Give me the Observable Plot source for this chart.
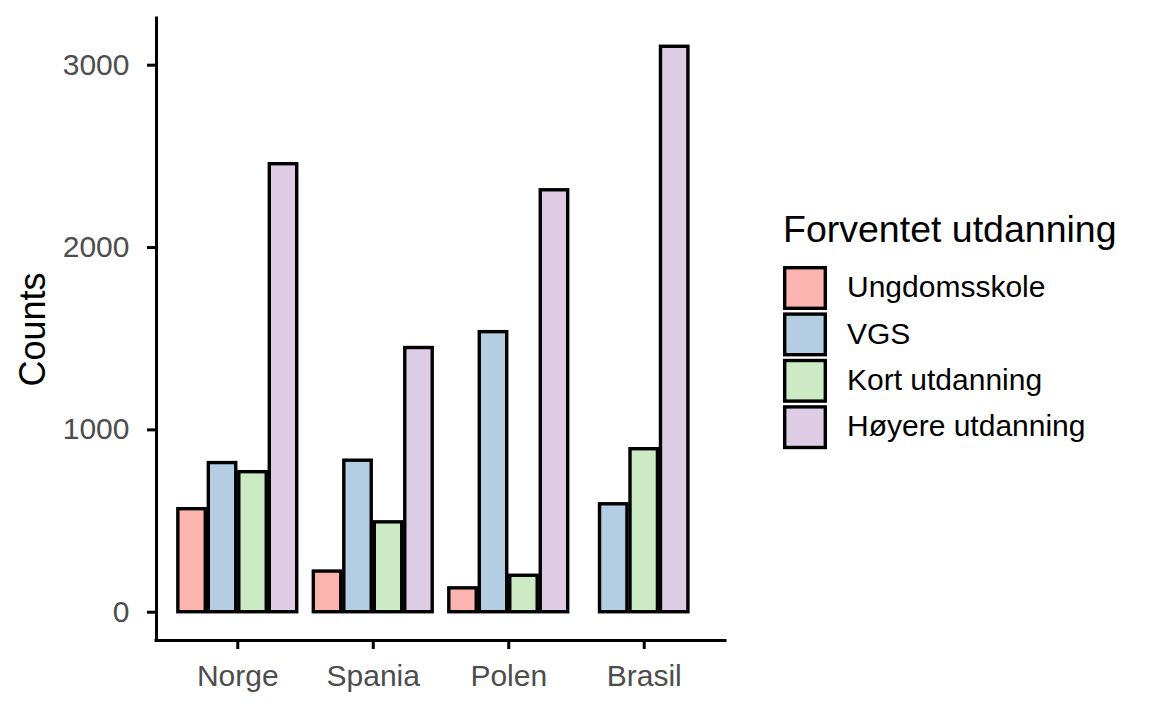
<!DOCTYPE html>
<html><head><meta charset="utf-8">
<script src="https://cdn.jsdelivr.net/npm/d3@7"></script>
<script src="https://cdn.jsdelivr.net/npm/@observablehq/plot@0.6"></script>
<style>
html,body{margin:0;padding:0;background:#fff;}
</style></head>
<body><div id="chart"></div>
<script>
const countries = ["Norge", "Spania", "Polen", "Brasil"];
const levels = ["Ungdomsskole", "VGS", "Kort utdanning", "Høyere utdanning"];
const colors = ["#FBB4AE", "#B3CDE3", "#CCEBC5", "#DECBE4"];
const norge = [565, 818, 768, 2457];
const spania = [223, 831, 493, 1449];
const polen = [131, 1536, 200, 2314];
const brasil = [null, 592, 894, 3101];
const yTicks = [0, 1000, 2000, 3000];
const legendTitle = "Forventet utdanning";
const yLabel = "Counts";

const series = [norge, spania, polen, brasil];
const groupWidth = 0.9, slot = groupWidth / levels.length, pad = 0.1;
const rows = [];
series.forEach((vals, i) => {
  const present = levels.map((l, j) => ({level: l, value: vals[j]})).filter(d => d.value != null);
  const k = present.length;
  present.forEach((d, j) => {
    const c = (i + 1) + (j - (k - 1) / 2) * slot;
    const hw = slot * (1 - pad) / 2;
    rows.push({country: countries[i], level: d.level, value: d.value, x1: c - hw, x2: c + hw});
  });
});
const yMax = d3.max(rows, d => d.value);
const xDomain = [0.4, countries.length + 0.6];
const yDomain = [-0.05 * yMax, 1.05 * yMax];
const font = "'Liberation Sans', Arial, Helvetica, sans-serif";

const plot = Plot.plot({
  width: 1152, height: 711,
  marginLeft: 156, marginRight: 427, marginTop: 18, marginBottom: 71,
  style: {fontFamily: font, background: "#fff", color: "black"},
  x: {domain: xDomain},
  y: {domain: yDomain},
  color: {domain: levels, range: colors},
  marks: [
    Plot.rect(rows, {x1: "x1", x2: "x2", y1: 0, y2: "value", fill: "level", stroke: "black", strokeWidth: 3.4}),
    Plot.axisY(yTicks, {tickSize: 9, tickPadding: 18, fontSize: 30, fill: "#4D4D4D", stroke: "black", strokeWidth: 3, tickFormat: d => String(d), label: null}),
    Plot.axisY([], {label: yLabel, labelAnchor: "center", labelArrow: "none", labelOffset: 137, fontSize: 36, fill: "black", tickSize: 0}),
    Plot.axisX(d3.range(1, countries.length + 1), {tickFormat: d => countries[d - 1], tickSize: 9, tickPadding: 15, fontSize: 30, fill: "#4D4D4D", stroke: "black", strokeWidth: 3, label: null}),
    Plot.ruleX([xDomain[0]], {stroke: "black", strokeWidth: 3, strokeLinecap: "square"}),
    Plot.ruleY([yDomain[0]], {stroke: "black", strokeWidth: 3, strokeLinecap: "square"})
  ]
});

// legend (ggplot-style, right side)
const svg = d3.select(plot);
const lg = svg.append("g").attr("font-family", font).attr("text-anchor", "start");
lg.append("text").attr("x", 783).attr("y", 242).attr("font-size", 37.5).attr("fill", "black").text(legendTitle);
levels.forEach((l, i) => {
  const top = 266 + i * 46.4;
  lg.append("rect").attr("x", 784.7).attr("y", top + 1.7).attr("width", 40.6).attr("height", 40.6)
    .attr("fill", colors[i]).attr("stroke", "black").attr("stroke-width", 3.4);
  lg.append("text").attr("x", 847).attr("y", top + 22 + 9.2).attr("font-size", 30).attr("fill", "black").text(l);
});

document.getElementById("chart").appendChild(plot);
</script>
</body></html>
